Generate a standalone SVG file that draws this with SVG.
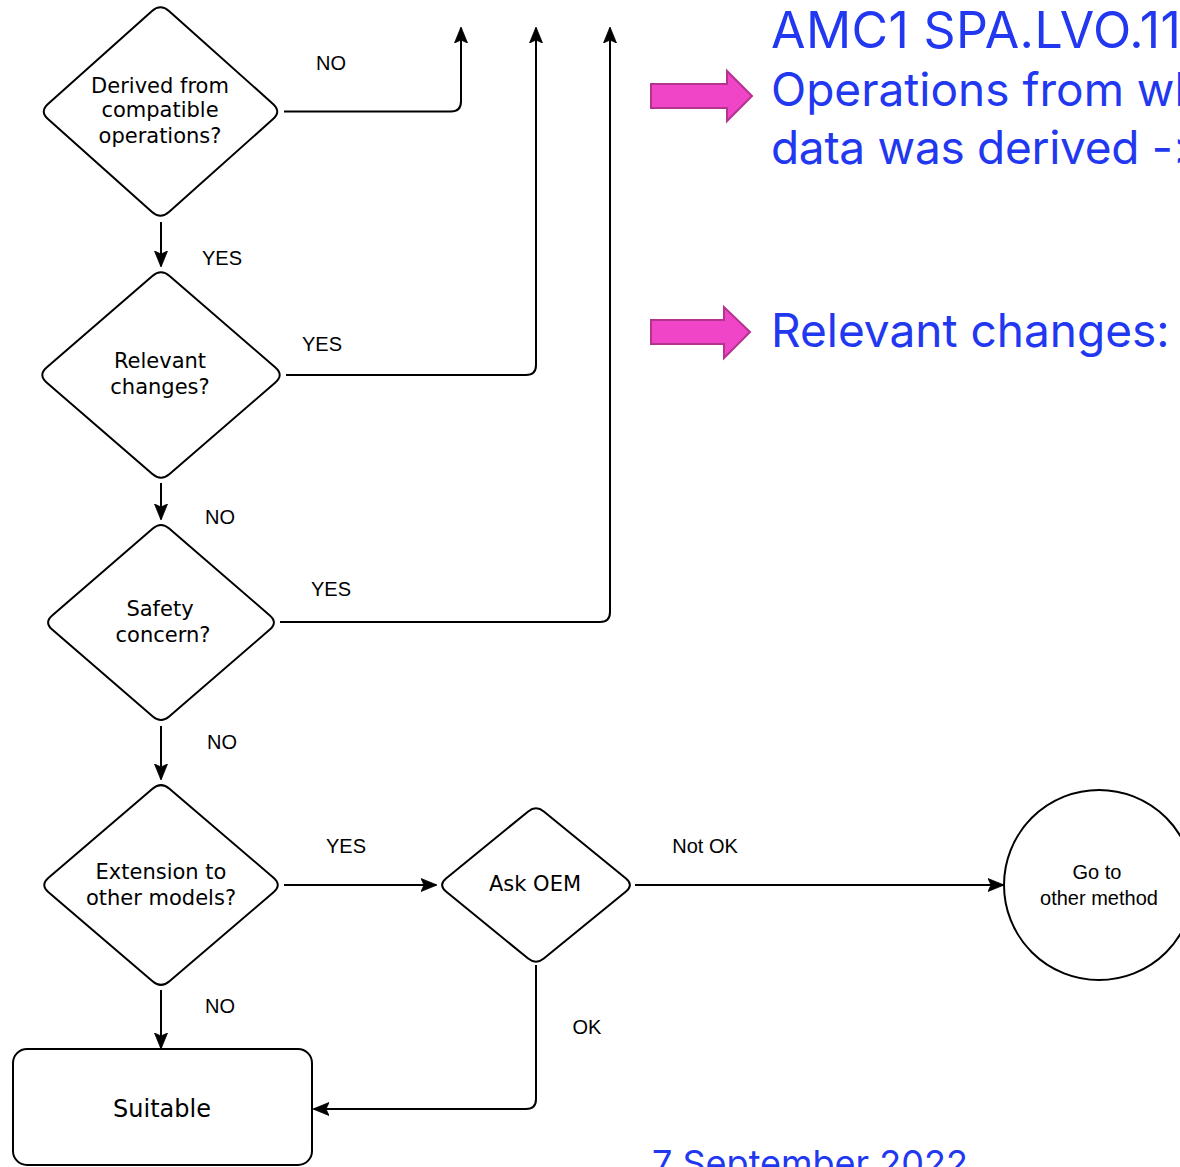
<svg xmlns="http://www.w3.org/2000/svg" width="1180" height="1167" viewBox="0 0 1180 1167">
<defs>
<style>
.shape{fill:#fff;stroke:#000;stroke-width:2}
.lbl{font-family:"DejaVu Sans",Verdana,sans-serif;font-size:21px;fill:#000;text-anchor:middle}
.el{font-family:"Liberation Sans",Arial,sans-serif;font-size:20px;fill:#000;text-anchor:middle}
.conn{fill:none;stroke:#000;stroke-width:2}
.blue{font-family:Inter,"Liberation Sans",sans-serif;fill:#2238F0}
.pink{fill:#EF45C6;stroke:#B3338F;stroke-width:2}
</style>
<marker id="ah" viewBox="0 0 16 14" refX="15" refY="7" markerWidth="16" markerHeight="14" orient="auto" markerUnits="userSpaceOnUse">
<path d="M0,0.5 L16,7 L0,13.5 L3,7 Z" fill="#000" stroke="#000" stroke-width="0.8" stroke-linejoin="round"/>
</marker>
</defs>
<rect width="1180" height="1167" fill="#fff"/>

<g id="connectors">
<path class="conn" d="M284,111.5 H451 Q461,111.5 461,101.5 V28" marker-end="url(#ah)"/>
<path class="conn" d="M286,375 H526 Q536,375 536,365 V28" marker-end="url(#ah)"/>
<path class="conn" d="M280,622 H600 Q610,622 610,612 V28" marker-end="url(#ah)"/>
<path class="conn" d="M161,222 V266" marker-end="url(#ah)"/>
<path class="conn" d="M161,483 V519" marker-end="url(#ah)"/>
<path class="conn" d="M161,726 V779" marker-end="url(#ah)"/>
<path class="conn" d="M284,885 H436" marker-end="url(#ah)"/>
<path class="conn" d="M635,885 H1003" marker-end="url(#ah)"/>
<path class="conn" d="M536,965 V1099 Q536,1109 526,1109 H314" marker-end="url(#ah)"/>
<path class="conn" d="M161,990 V1048" marker-end="url(#ah)"/>
<text class="el" x="331" y="70">NO</text>
<text class="el" x="222" y="265">YES</text>
<text class="el" x="322" y="351">YES</text>
<text class="el" x="220" y="524">NO</text>
<text class="el" x="331" y="596">YES</text>
<text class="el" x="222" y="749">NO</text>
<text class="el" x="346" y="853">YES</text>
<text class="el" x="705" y="853">Not OK</text>
<text class="el" x="587" y="1034">OK</text>
<text class="el" x="220" y="1013">NO</text>
</g>

<g id="n-derived">
<path class="shape" d="M168.97,11.06 L273.03,103.94 Q281.5,111.5 273.03,119.06 L168.97,211.94 Q160.5,219.5 152.03,211.94 L47.97,119.06 Q39.5,111.5 47.97,103.94 L152.03,11.06 Q160.5,3.5 168.97,11.06 Z"/>
<text class="lbl" x="160" y="93">Derived from</text>
<text class="lbl" x="160" y="117">compatible</text>
<text class="lbl" x="160" y="143">operations?</text>
</g>

<g id="n-relevant">
<path class="shape" d="M169.61,275.96 L275.39,367.54 Q284,375 275.39,382.46 L169.61,474.04 Q161,481.5 152.39,474.04 L46.61,382.46 Q38,375 46.61,367.54 L152.39,275.96 Q161,268.5 169.61,275.96 Z"/>
<text class="lbl" x="160" y="368">Relevant</text>
<text class="lbl" x="160" y="394">changes?</text>
</g>

<g id="n-safety">
<path class="shape" d="M169.19,528.57 L269.81,615.43 Q278,622.5 269.81,629.57 L169.19,716.43 Q161,723.5 152.81,716.43 L52.19,629.57 Q44,622.5 52.19,615.43 L152.81,528.57 Q161,521.5 169.19,528.57 Z"/>
<text class="lbl" x="160" y="616">Safety</text>
<text class="lbl" x="163" y="642">concern?</text>
</g>

<g id="n-extension">
<path class="shape" d="M169.47,788.75 L273.53,877.75 Q282,885 273.53,892.25 L169.47,981.25 Q161,988.5 152.53,981.25 L48.53,892.25 Q40,885 48.53,877.75 L152.53,788.75 Q161,781.5 169.47,788.75 Z"/>
<text class="lbl" x="161" y="879">Extension to</text>
<text class="lbl" x="161" y="905">other models?</text>
</g>

<g id="n-askoem">
<path class="shape" d="M543.82,811.4 L625.98,878.6 Q633.8,885 625.98,891.4 L543.82,958.6 Q536,965 528.18,958.6 L446.02,891.4 Q438.2,885 446.02,878.6 L528.18,811.4 Q536,805 543.82,811.4 Z"/>
<text class="lbl" x="535" y="891">Ask OEM</text>
</g>

<g id="n-other">
<circle class="shape" cx="1099" cy="885" r="95"/>
<text class="el" x="1097" y="879">Go to</text>
<text class="el" x="1099" y="905">other method</text>
</g>

<g id="n-suitable">
<rect class="shape" x="13" y="1049" width="299" height="116" rx="14"/>
<text class="lbl" x="162" y="1117" style="font-size:24px">Suitable</text>
</g>

<g id="annotations">
<path class="pink" d="M651,84 H727 V71 L752,96 L727,121 V108 H651 Z"/>
<path class="pink" d="M651,320 H724 V307 L750,332 L724,358 V344 H651 Z"/>
<text class="blue" x="771" y="48" font-size="50" letter-spacing="0.4">AMC1 SPA.LVO.110</text>
<text class="blue" x="771" y="106" font-size="46">Operations from which</text>
<text class="blue" x="771" y="164" font-size="46" letter-spacing="-0.3">data was derived -&gt;</text>
<text class="blue" x="771" y="347" font-size="46">Relevant changes:</text>
<text class="blue" x="652" y="1176" font-size="36">7 September 2022</text>
</g>
</svg>
